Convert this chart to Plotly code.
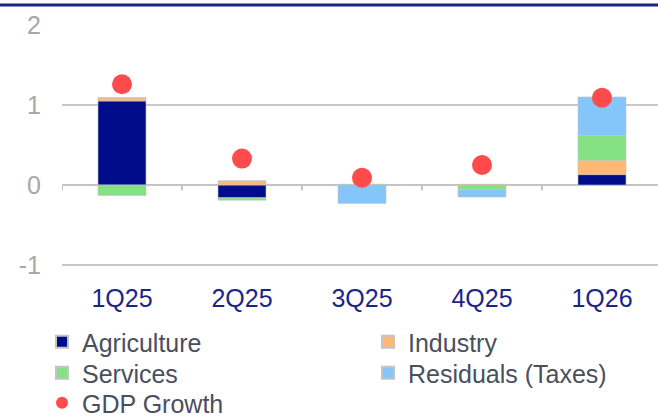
import plotly.graph_objects as go

quarters = ["1Q25", "2Q25", "3Q25", "4Q25", "1Q26"]
agriculture = [1.05, -0.16, 0.0, 0.0, 0.13]
industry = [0.04, 0.05, 0.0, 0.01, 0.18]
services = [-0.13, -0.03, 0.01, -0.06, 0.31]
residuals = [0.0, 0.0, -0.23, -0.09, 0.48]
gdp_growth = [1.26, 0.33, 0.09, 0.25, 1.09]

FONT = "Liberation Sans, Arial, sans-serif"
W, H = 658, 417
L, R, T, B = 62, 0, 25, 136
plot_w, plot_h = W - L - R, H - T - B


def px_x(p):
    return (p - L) / plot_w


def px_y(p):
    return (H - B - p) / plot_h


# legend slots (left px, row centre px), one legend per entry
slots = {
    "legend": (42, 342),
    "legend2": (368, 342),
    "legend3": (42, 373),
    "legend4": (368, 373),
    "legend5": (42, 403),
}

fig = go.Figure()
for name, vals, color, leg in [("Agriculture", agriculture, "#000c8a", "legend"),
                               ("Industry", industry, "#ffb974", "legend2"),
                               ("Services", services, "#84e184", "legend3"),
                               ("Residuals (Taxes)", residuals, "#84c6fa", "legend4")]:
    fig.add_trace(go.Bar(x=quarters, y=vals, name=name, width=0.4, legend=leg,
                         marker=dict(color=color, line=dict(color="#c4c4c4", width=0.6))))

fig.add_trace(go.Scatter(x=quarters, y=gdp_growth, mode="markers", name="GDP Growth",
                         legend="legend5", marker=dict(color="#ff4b4b", size=20)))

# small ticks between categories on the zero line
shapes = []
for i in range(len(quarters)):
    shapes.append(dict(type="line", xref="x", yref="y", x0=i - 0.5, x1=i - 0.5, y0=0, y1=-0.07,
                       line=dict(color="#c4c4c4", width=2)))
# navy rule at the top
shapes.append(dict(type="line", xref="paper", yref="paper", x0=-0.2, x1=1.1,
                   y0=px_y(5), y1=px_y(5), line=dict(color="#1c2488", width=3)))

legend_font = dict(size=25, color="#4a4f5e")
legends = {k: dict(x=px_x(lx), xanchor="left", y=px_y(cy), yanchor="middle",
                   font=legend_font, itemsizing="constant", bgcolor="rgba(0,0,0,0)")
           for k, (lx, cy) in slots.items()}

fig.update_layout(
    width=W, height=H,
    margin=dict(l=L, r=R, t=T, b=B, autoexpand=False),
    barmode="relative",
    plot_bgcolor="white", paper_bgcolor="white",
    font=dict(family=FONT),
    shapes=shapes,
    showlegend=True,
    xaxis=dict(range=[-0.5, -0.5 + plot_w / 120], showgrid=False, showline=False,
               ticks="", tickfont=dict(size=25, color="#1c2488")),
    yaxis=dict(range=[-1.2, 2.0], tickvals=[-1, 0, 1, 2], ticktext=["-1", "0", "1", "2"],
               showgrid=True, gridcolor="#c8c8c8", gridwidth=2,
               zeroline=True, zerolinecolor="#c4c4c4", zerolinewidth=2,
               ticks="", ticklabelstandoff=20,
               tickfont=dict(size=25, color="#a8a8a8")),
    **legends,
)

fig.write_html("out.html", config={"displayModeBar": False},
               post_script="document.body.style.margin='0';")
